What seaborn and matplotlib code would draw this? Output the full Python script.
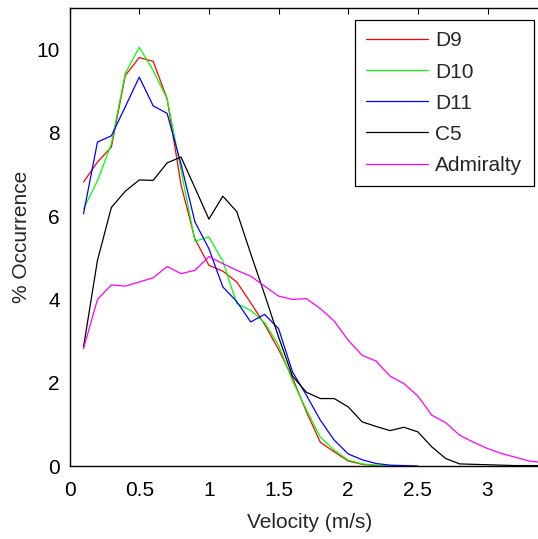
import numpy as np
import pandas as pd
import matplotlib
matplotlib.use("Agg")
import matplotlib.pyplot as plt
import seaborn as sns

velocity = [round(0.1 * i, 1) for i in range(1, 35)]

d9 = [6.82, 7.30, 7.66, 9.38, 9.81, 9.72, 8.82, 6.75, 5.45, 4.82, 4.68, 4.42,
      3.92, 3.40, 2.80, 2.12, 1.30, 0.57, 0.34, 0.12, 0.04, 0.01, 0.0]
d10 = [6.18, 6.85, 7.74, 9.43, 10.06, 9.50, 8.82, 7.10, 5.40, 5.50, 4.92, 3.90,
       3.74, 3.44, 2.90, 2.05, 1.35, 0.69, 0.38, 0.14, 0.05, 0.02, 0.0]
d11 = [6.06, 7.78, 7.93, 8.63, 9.34, 8.65, 8.47, 7.25, 5.86, 5.22, 4.30, 3.95,
       3.46, 3.64, 3.30, 2.26, 1.70, 1.10, 0.62, 0.29, 0.15, 0.06, 0.02, 0.01, 0.0]
c5 = [2.86, 4.94, 6.21, 6.60, 6.87, 6.86, 7.28, 7.42, 6.68, 5.93, 6.48, 6.11,
      5.10, 4.12, 3.10, 2.16, 1.77, 1.62, 1.62, 1.42, 1.06, 0.95, 0.85, 0.93,
      0.82, 0.46, 0.18, 0.05, 0.04, 0.03, 0.02, 0.01, 0.01, 0.01]
admiralty = [2.82, 4.00, 4.35, 4.32, 4.42, 4.52, 4.79, 4.62, 4.70, 5.03, 4.86,
             4.70, 4.56, 4.32, 4.08, 4.00, 4.02, 3.78, 3.48, 3.02, 2.66, 2.52,
             2.16, 1.98, 1.68, 1.22, 1.04, 0.74, 0.57, 0.42, 0.30, 0.21, 0.12, 0.08]

series_names = ["D9", "D10", "D11", "C5", "Admiralty"]
series_values = [d9, d10, d11, c5, admiralty]
colors = ["#ff0000", "#00ff00", "#0000ff", "#000000", "#ff00ff"]

frames = []
for name, vals in zip(series_names, series_values):
    frames.append(pd.DataFrame({"Velocity": velocity[:len(vals)],
                                "Occurrence": vals,
                                "Series": name}))
df = pd.concat(frames, ignore_index=True)

sns.set_theme(style="white")
plt.rcParams["font.family"] = ["Liberation Sans", "DejaVu Sans"]

fig = plt.figure(figsize=(5.38, 5.39), dpi=100)
x0_px = 69.6
px_per_unit = 139.3
x_max = 3.45
ax = fig.add_axes([x0_px / 538, 73 / 539, x_max * px_per_unit / 538, (466 - 8) / 539])

sns.lineplot(data=df, x="Velocity", y="Occurrence", hue="Series",
             hue_order=series_names, palette=colors, linewidth=0.9,
             ax=ax, legend=True)

ax.set_xlim(0, x_max)
ax.set_ylim(0, 11)
ax.set_xticks([0, 0.5, 1, 1.5, 2, 2.5, 3])
ax.set_xticklabels(["0", "0.5", "1", "1.5", "2", "2.5", "3"])
ax.set_yticks([0, 2, 4, 6, 8, 10])
ax.tick_params(direction="in", length=4, width=0.8, top=True, right=True,
               labelsize=15, colors="black", pad=7)
ax.tick_params(axis="x", pad=11)
for s in ax.spines.values():
    s.set_color("black")
    s.set_linewidth(1.0)
    s.set_visible(True)

ax.set_xlabel("Velocity (m/s)", fontsize=15, labelpad=9)
ax.set_ylabel("% Occurrence", fontsize=15, labelpad=4)

handles, labels = ax.get_legend_handles_labels()
leg = ax.legend(handles, labels, loc="upper right",
                bbox_to_anchor=(534 / 538, (539 - 20) / 539),
                bbox_transform=fig.transFigure, borderaxespad=0,
                fontsize=15, frameon=True, fancybox=False, framealpha=1,
                edgecolor="black", handlelength=2.97, handletextpad=0.35,
                labelspacing=0.58, borderpad=0.55)
leg.get_frame().set_linewidth(0.9)
for line in leg.get_lines():
    line.set_linewidth(0.9)

fig.savefig("out.png", dpi=100)
